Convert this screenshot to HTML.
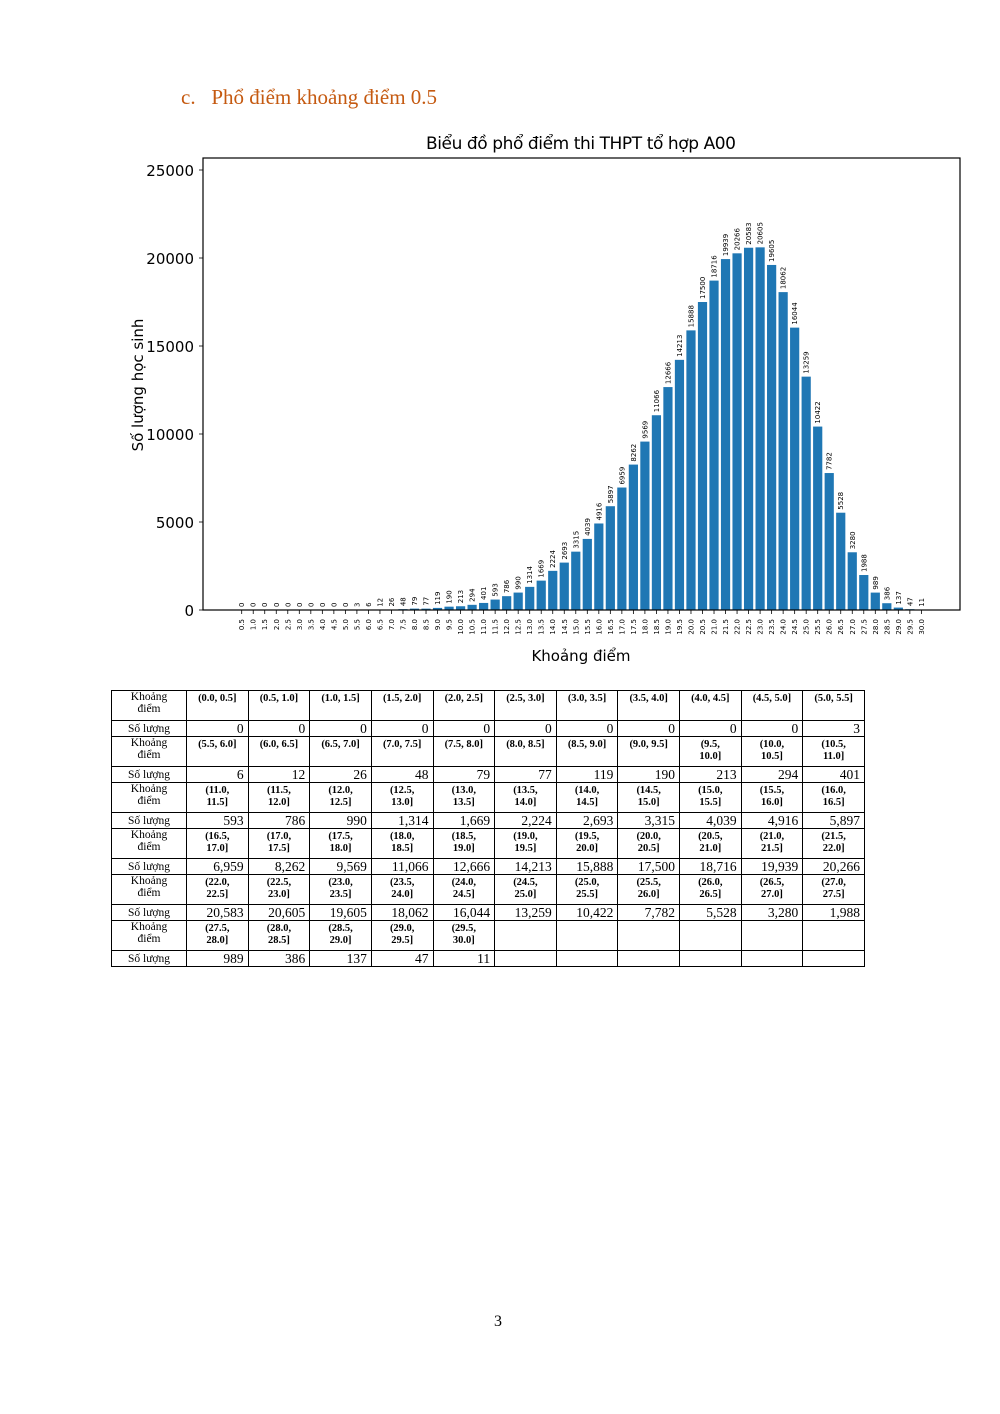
<!DOCTYPE html>
<html><head><meta charset="utf-8"><style>
body{margin:0;background:#fff;width:1000px;height:1414px;position:relative;overflow:hidden;font-family:"Liberation Serif",serif}
#h{position:absolute;left:181px;top:85px;font-size:21px;color:#c55a11;white-space:pre}
#pg{position:absolute;left:494px;top:1313px;font-size:16px}
table{position:absolute;left:111px;top:690px;border-collapse:collapse;table-layout:fixed;width:754px;font-family:"Liberation Serif",serif}
td{border:1px solid #000;padding:0 4px;line-height:12px;vertical-align:top;overflow:hidden}
td.k{text-align:center;font-size:11.5px;height:29px}
td.s{text-align:center;font-size:11.5px;height:15px;vertical-align:middle}
td.r{text-align:center;font-weight:bold;font-size:10.5px;padding-top:2px}
td.n{text-align:right;font-size:13.5px;vertical-align:bottom;height:15px;line-height:14px}
</style></head><body>
<div id="h">c.   Phổ điểm khoảng điểm 0.5</div>
<svg id="c" width="1000" height="700" style="position:absolute;left:0;top:0" font-family="DejaVu Sans, sans-serif"></svg>
<table id="t"></table>
<div id="pg">3</div>
<script>
var v=[0,0,0,0,0,0,0,0,0,0,3,6,12,26,48,79,77,119,190,213,294,401,593,786,990,1314,1669,2224,2693,3315,4039,4916,5897,6959,8262,9569,11066,12666,14213,15888,17500,18716,19939,20266,20583,20605,19605,18062,16044,13259,10422,7782,5528,3280,1988,989,386,137,47,11];
var s='';var y0=610,k=440/25000;
s+='<text x="581" y="149" font-size="17" text-anchor="middle" textLength="310">Biểu đồ phổ điểm thi THPT tổ hợp A00</text>';
for(var i=0;i<60;i++){var x=241.7+i*11.52,h=v[i]*k;
s+='<rect x="'+(x-4.6)+'" y="'+(y0-h)+'" width="9.2" height="'+h+'" fill="#1f77b4"/>';
s+='<line x1="'+x+'" y1="610" x2="'+x+'" y2="614" stroke="#000" stroke-width="0.8"/>';
s+='<text transform="translate('+(x+2.5)+','+(y0-h-3)+') rotate(-90)" font-size="7">'+v[i]+'</text>';
s+='<text transform="translate('+(x+2.5)+',619) rotate(-90)" font-size="7" text-anchor="end">'+((i+1)*0.5).toFixed(1)+'</text>';}
for(var j=0;j<=5;j++){var yy=y0-j*5000*k;
s+='<line x1="199" y1="'+yy+'" x2="203" y2="'+yy+'" stroke="#000" stroke-width="0.8"/>';
s+='<text x="194" y="'+(yy+6)+'" font-size="15" text-anchor="end">'+(j*5000)+'</text>';}
s+='<rect x="203" y="158" width="757" height="452" fill="none" stroke="#000" stroke-width="1.2"/>';
s+='<text transform="translate(143,385) rotate(-90)" font-size="15" text-anchor="middle">Số lượng học sinh</text>';
s+='<text x="581" y="661" font-size="15" text-anchor="middle">Khoảng điểm</text>';
document.getElementById('c').innerHTML=s;
var tv=[0,0,0,0,0,0,0,0,0,0,3].concat(v.slice(11));
var t='<colgroup><col style="width:75px">';for(var c=0;c<11;c++)t+='<col>';t+='</colgroup>';
for(var r=0;r<6;r++){var a='<tr><td class="k">Khoảng<br>điểm</td>',b='<tr><td class="s">Số lượng</td>';
for(var c=0;c<11;c++){var i=r*11+c;
if(i<60){var lo=(i*0.5).toFixed(1),hi=((i+1)*0.5).toFixed(1);
var lab=(i>=19)?'('+lo+',<br>'+hi+']':'('+lo+', '+hi+']';
a+='<td class="r">'+lab+'</td>';b+='<td class="n">'+tv[i].toLocaleString('en-US')+'</td>';}
else{a+='<td class="r"></td>';b+='<td class="n"></td>';}}
t+=a+'</tr>'+b+'</tr>';}
document.getElementById('t').innerHTML=t;
</script>
</body></html>
